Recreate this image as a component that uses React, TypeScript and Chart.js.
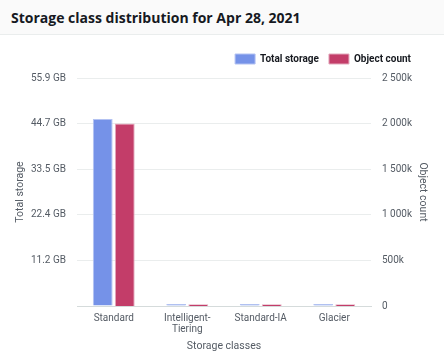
import React, { useEffect, useRef } from "react";
import { Chart, registerables } from "chart.js";

Chart.register(...registerables);

const titleText = "Storage class distribution for Apr 28, 2021";
const categories = [["Standard"], ["Intelligent-", "Tiering"], ["Standard-IA"], ["Glacier"]];
const totalStorageBytes = [49.2e9, 0.5e9, 0.5e9, 0.5e9];
const objectCounts = [2000000, 20000, 20000, 20000];
const storageMax = 60e9;
const storageStep = 12e9;
const countMax = 2500000;
const countStep = 500000;

const FONT = "Roboto, sans-serif";
const TEXT = "#545b64";

const fmtGB = (v: number) => (v === 0 ? "" : (v / 1024 ** 3).toFixed(1) + " GB");
const fmtK = (v: number) => {
  if (v === 0) return "0";
  const k = Math.round(v / 1000);
  return k.toString().replace(/\B(?=(\d{3})+(?!\d))/g, " ") + "k";
};

const legendShift = {
  id: "legendShift",
  afterLayout(chart: any) {
    const lg = chart.legend;
    if (lg) {
      lg.right = chart.width - 23;
      lg.top -= 4;
      lg.bottom -= 4;
    }
  },
};

export default function App() {
  const ref = useRef<HTMLCanvasElement | null>(null);
  useEffect(() => {
    if (!ref.current) return;
    const chart = new Chart(ref.current, {
      type: "bar",
      data: {
        labels: categories as any,
        datasets: [
          {
            label: "Total storage",
            data: totalStorageBytes,
            backgroundColor: "#7592e8",
            borderColor: "#b3c2f2",
            borderWidth: 1,
            yAxisID: "y",
          },
          {
            label: "Object count",
            data: objectCounts,
            backgroundColor: "#c33d69",
            borderColor: "#e3aabd",
            borderWidth: 1,
            yAxisID: "y1",
          },
        ],
      },
      plugins: [legendShift],
      options: {
        animation: false,
        responsive: false,
        maintainAspectRatio: false,
        layout: { padding: { left: 0, right: 0, top: 13, bottom: 0 } },
        datasets: { bar: { categoryPercentage: 0.6, barPercentage: 0.9 } },
        plugins: {
          legend: {
            position: "top",
            align: "end",
            labels: {
              boxWidth: 20,
              boxHeight: 10,
              padding: 10,
              color: "#16191f",
              font: { family: FONT, size: 10, weight: "bold" },
            },
          },
          tooltip: { enabled: false },
        },
        scales: {
          x: {
            grid: { display: false, drawTicks: false },
            border: { display: true, color: "#d5dbdb" },
            ticks: { color: TEXT, font: { family: FONT, size: 10, lineHeight: 1.1 }, padding: 7, maxRotation: 0 },
            title: { display: true, text: "Storage classes", color: TEXT, font: { family: FONT, size: 10.5 }, padding: { top: 2, bottom: 2 } },
            afterFit: (s: any) => { s.height = 49; },
          },
          y: {
            position: "left",
            min: 0,
            max: storageMax,
            ticks: { stepSize: storageStep, callback: (v: any) => fmtGB(Number(v)), color: TEXT, font: { family: FONT, size: 10 }, padding: 11 },
            grid: { color: "#eaeded", lineWidth: 1, drawTicks: false },
            border: { display: false },
            title: { display: true, text: "Total storage", color: TEXT, font: { family: FONT, size: 10.5 }, padding: { top: 14, bottom: 0 } },
            afterFit: (s: any) => { s.width = 77; },
          },
          y1: {
            position: "right",
            min: 0,
            max: countMax,
            ticks: { stepSize: countStep, callback: (v: any) => fmtK(Number(v)), color: TEXT, font: { family: FONT, size: 10 }, padding: 11 },
            grid: { display: false, drawTicks: false },
            border: { display: false },
            title: { display: true, text: "Object count", color: TEXT, font: { family: FONT, size: 10.5 }, padding: { top: 15, bottom: 0 } },
            afterFit: (s: any) => { s.width = 73; },
          },
        },
      },
    });
    return () => chart.destroy();
  }, []);

  return (
    <div style={{ position: "absolute", left: 0, top: 0, width: 444, height: 355, background: "#fff", fontFamily: "'Open Sans', sans-serif", overflow: "hidden" }}>
      <div style={{ height: 35, background: "#fafafa", borderBottom: "1px solid #eaeded", boxSizing: "border-box", display: "flex", alignItems: "center", paddingLeft: 11 }}>
        <span style={{ fontWeight: 700, fontSize: 14, color: "#16191f" }}>{titleText}</span>
      </div>
      <canvas ref={ref} width={444} height={320} style={{ display: "block", width: 444, height: 320 }} />
    </div>
  );
}
